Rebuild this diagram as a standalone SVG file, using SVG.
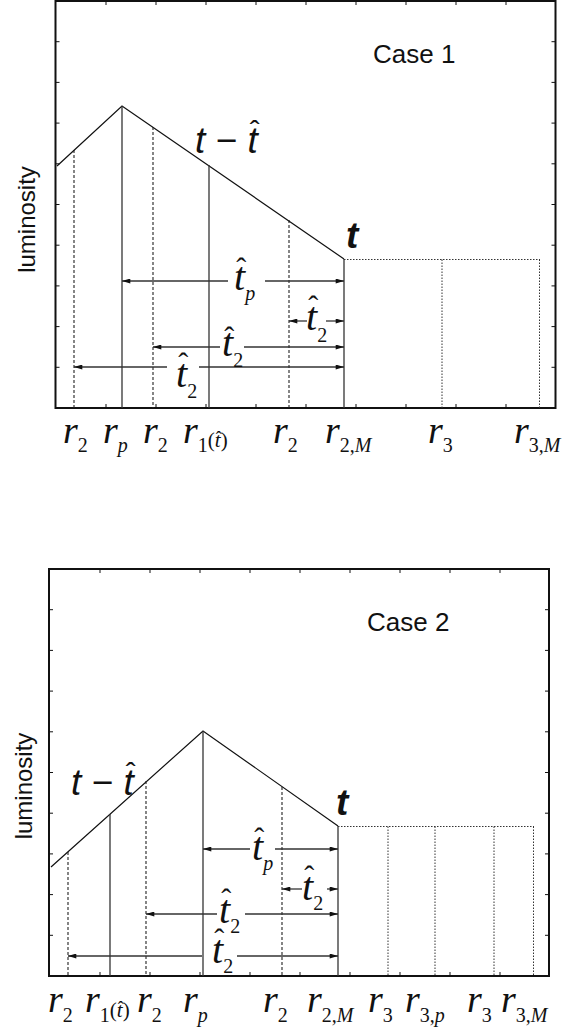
<svg xmlns="http://www.w3.org/2000/svg" width="581" height="1028" viewBox="0 0 581 1028">
<style>
.fr{fill:none;stroke:#111;stroke-width:2}
.tk{stroke:#111;stroke-width:1}
.cv{fill:none;stroke:#111;stroke-width:1.2}
.vs{stroke:#333;stroke-width:1.3}
.vd{stroke:#222;stroke-width:1.1;stroke-dasharray:3 2}
.vo{stroke:#333;stroke-width:1;stroke-dasharray:1.5 1.5}
.ar{stroke:#333;stroke-width:1.3}
.s{marker-start:url(#ah)}
.e{marker-end:url(#ah)}
.m{font-family:"Liberation Serif",serif;font-style:italic;font-size:38px;fill:#111}
.tl{font-family:"Liberation Serif",serif;font-style:italic;font-size:40px;fill:#111}
.sub{font-size:20px}
.sm{font-size:21px}
.up{font-style:normal}
.hat{font-size:30px;font-style:normal}
.hs{font-size:18px;font-style:normal}
.sans{font-family:"Liberation Sans",Arial,sans-serif;fill:#111}
.tt{font-family:"Liberation Sans",Arial,sans-serif;font-style:italic;font-size:37px;fill:#111}
.tb{font-family:"Liberation Sans",Arial,sans-serif;font-style:italic;font-weight:bold;font-size:37px;fill:#111}
.hsans{font-size:30px;font-style:normal}
</style>
<defs>
<marker id="ah" viewBox="0 0 10 6" refX="10" refY="3" markerWidth="10" markerHeight="5" markerUnits="userSpaceOnUse" orient="auto-start-reverse"><path d="M0,0L10,3L0,6z" fill="#111"/></marker>
</defs>

<!-- ================= Panel 1 ================= -->
<g id="panel1-frame">
<rect class="fr" x="55.5" y="1" width="500" height="407"/>
<path class="tk" d="M106,1v4M156,1v4M206,1v4M256,1v4M306,1v4M356,1v4M406,1v4M456,1v4M506,1v4
M106,408v-4M156,408v-4M206,408v-4M256,408v-4M306,408v-4M356,408v-4M406,408v-4M456,408v-4M506,408v-4
M55.5,367.3h4M55.5,326.6h4M55.5,285.9h4M55.5,245.2h4M55.5,204.5h4M55.5,163.8h4M55.5,123.1h4M55.5,82.4h4M55.5,41.7h4
M555.5,367.3h-4M555.5,326.6h-4M555.5,285.9h-4M555.5,245.2h-4M555.5,204.5h-4M555.5,163.8h-4M555.5,123.1h-4M555.5,82.4h-4M555.5,41.7h-4"/>
<text class="sans" font-size="24" transform="translate(35,219.5) rotate(-90)" text-anchor="middle">luminosity</text>
<text class="sans" font-size="26" x="373" y="63">Case 1</text>
</g>
<g id="panel1-curve">
<polyline class="cv" points="57,166 122,106 344,259"/>
<line class="vd" x1="74" y1="150" x2="74" y2="408"/>
<line class="vs" x1="122" y1="106" x2="122" y2="408"/>
<line class="vd" x1="153" y1="127" x2="153" y2="408"/>
<line class="vs" x1="209" y1="165" x2="209" y2="408"/>
<line class="vd" x1="289" y1="220" x2="289" y2="408"/>
<line class="vs" x1="344" y1="259" x2="344" y2="408"/>
<path class="vo" d="M344,259.5H540M442,259.5V408M539.5,259.5V408"/>
</g>
<g id="panel1-connectors">
<line class="ar s" x1="122" y1="281" x2="228" y2="281"/>
<line class="ar e" x1="265" y1="281" x2="344" y2="281"/>
<line class="ar s" x1="289" y1="321" x2="307" y2="321"/>
<line class="ar e" x1="326" y1="321" x2="344" y2="321"/>
<line class="ar s" x1="153" y1="347" x2="220" y2="347"/>
<line class="ar e" x1="244" y1="347" x2="344" y2="347"/>
<line class="ar s" x1="74" y1="367" x2="167" y2="367"/>
<line class="ar e" x1="199" y1="367" x2="344" y2="367"/>
</g>
<g id="panel1-labels">
<text class="tt" x="195" y="153">t − t<tspan class="hsans" dx="-8" dy="-12">ˆ</tspan></text>
<text class="tb" x="346" y="248">t</text>
<text class="tl" x="234" y="290">t<tspan class="hat" dx="-9" dy="-12">ˆ</tspan><tspan class="sub" dx="-1" dy="22">p</tspan></text>
<text class="tl" x="306" y="330">t<tspan class="hat" dx="-9" dy="-14">ˆ</tspan><tspan class="sub up" dx="-1" dy="26">2</tspan></text>
<text class="tl" x="222" y="356">t<tspan class="hat" dx="-9" dy="-9">ˆ</tspan><tspan class="sub up" dx="-1" dy="20">2</tspan></text>
<text class="tl" x="176" y="387">t<tspan class="hat" dx="-9" dy="-14">ˆ</tspan><tspan class="sub up" dx="-1" dy="25">2</tspan></text>
</g>
<g id="panel1-axis">
<text class="m" x="63" y="443">r<tspan class="sub up" dy="9">2</tspan></text>
<text class="m" x="103" y="443">r<tspan class="sub" dy="9">p</tspan></text>
<text class="m" x="143" y="443">r<tspan class="sub up" dy="9">2</tspan></text>
<text class="m" x="183" y="443">r<tspan class="sub up" dy="9">1</tspan><tspan class="sm up" dy="-5">(</tspan><tspan class="sm">t</tspan><tspan class="hs" dx="-5" dy="-3">ˆ</tspan><tspan class="sm up" dx="-1" dy="3">)</tspan></text>
<text class="m" x="273" y="443">r<tspan class="sub up" dy="9">2</tspan></text>
<text class="m" x="325" y="443">r<tspan class="sub up" dy="9">2,</tspan><tspan class="sub">M</tspan></text>
<text class="m" x="428" y="443">r<tspan class="sub up" dy="9">3</tspan></text>
<text class="m" x="514" y="443">r<tspan class="sub up" dy="9">3,</tspan><tspan class="sub">M</tspan></text>
</g>

<!-- ================= Panel 2 ================= -->
<g id="panel2-frame">
<rect class="fr" x="49" y="569" width="500" height="407"/>
<path class="tk" d="M100,569v4M150,569v4M200,569v4M250,569v4M300,569v4M350,569v4M400,569v4M450,569v4M500,569v4
M100,976v-4M150,976v-4M200,976v-4M250,976v-4M300,976v-4M350,976v-4M400,976v-4M450,976v-4M500,976v-4
M49,935.3h4M49,894.6h4M49,853.9h4M49,813.2h4M49,772.5h4M49,731.8h4M49,691.1h4M49,650.4h4M49,609.7h4
M549,935.3h-4M549,894.6h-4M549,853.9h-4M549,813.2h-4M549,772.5h-4M549,731.8h-4M549,691.1h-4M549,650.4h-4M549,609.7h-4"/>
<text class="sans" font-size="24" transform="translate(32,786) rotate(-90)" text-anchor="middle">luminosity</text>
<text class="sans" font-size="26" x="367" y="631">Case 2</text>
</g>
<g id="panel2-curve">
<polyline class="cv" points="51,867 203,731 338,826"/>
<line class="vd" x1="68" y1="852" x2="68" y2="976"/>
<line class="vs" x1="110" y1="814" x2="110" y2="976"/>
<line class="vd" x1="146" y1="781" x2="146" y2="976"/>
<line class="vs" x1="203" y1="731" x2="203" y2="976"/>
<line class="vd" x1="282" y1="787" x2="282" y2="976"/>
<line class="vs" x1="338" y1="826" x2="338" y2="976"/>
<path class="vo" d="M338,826.5H534M388,826.5V976M435,826.5V976M494,826.5V976M533.5,826.5V976"/>
</g>
<g id="panel2-connectors">
<line class="ar s" x1="203" y1="849" x2="250" y2="849"/>
<line class="ar e" x1="275" y1="849" x2="338" y2="849"/>
<line class="ar s" x1="282" y1="889" x2="302" y2="889"/>
<line class="ar e" x1="327" y1="889" x2="338" y2="889"/>
<line class="ar s" x1="146" y1="914" x2="217" y2="914"/>
<line class="ar e" x1="245" y1="914" x2="338" y2="914"/>
<line class="ar s" x1="68" y1="956" x2="202" y2="956"/>
<line class="ar e" x1="237" y1="956" x2="338" y2="956"/>
</g>
<g id="panel2-labels">
<text class="tt" x="71" y="795">t − t<tspan class="hsans" dx="-8" dy="-12">ˆ</tspan></text>
<text class="tb" x="336" y="815">t</text>
<text class="tl" x="252" y="860">t<tspan class="hat" dx="-9" dy="-12">ˆ</tspan><tspan class="sub" dx="-1" dy="22">p</tspan></text>
<text class="tl" x="302" y="900">t<tspan class="hat" dx="-9" dy="-14">ˆ</tspan><tspan class="sub up" dx="-1" dy="24">2</tspan></text>
<text class="tl" x="219" y="923">t<tspan class="hat" dx="-9" dy="-14">ˆ</tspan><tspan class="sub up" dx="-1" dy="24">2</tspan></text>
<text class="tl" x="212" y="963">t<tspan class="hat" dx="-9" dy="-14">ˆ</tspan><tspan class="sub up" dx="-1" dy="24">2</tspan></text>
</g>
<g id="panel2-axis">
<text class="m" x="48" y="1012">r<tspan class="sub up" dy="10">2</tspan></text>
<text class="m" x="85" y="1012">r<tspan class="sub up" dy="10">1</tspan><tspan class="sm up" dy="-5">(</tspan><tspan class="sm">t</tspan><tspan class="hs" dx="-5" dy="-3">ˆ</tspan><tspan class="sm up" dx="-1" dy="3">)</tspan></text>
<text class="m" x="137" y="1012">r<tspan class="sub up" dy="10">2</tspan></text>
<text class="m" x="183" y="1012">r<tspan class="sub" dy="10">p</tspan></text>
<text class="m" x="263" y="1012">r<tspan class="sub up" dy="10">2</tspan></text>
<text class="m" x="307" y="1012">r<tspan class="sub up" dy="10">2,</tspan><tspan class="sub">M</tspan></text>
<text class="m" x="368" y="1012">r<tspan class="sub up" dy="10">3</tspan></text>
<text class="m" x="405" y="1012">r<tspan class="sub up" dy="10">3,</tspan><tspan class="sub">p</tspan></text>
<text class="m" x="467" y="1012">r<tspan class="sub up" dy="10">3</tspan></text>
<text class="m" x="501" y="1012">r<tspan class="sub up" dy="10">3,</tspan><tspan class="sub">M</tspan></text>
</g>
</svg>
